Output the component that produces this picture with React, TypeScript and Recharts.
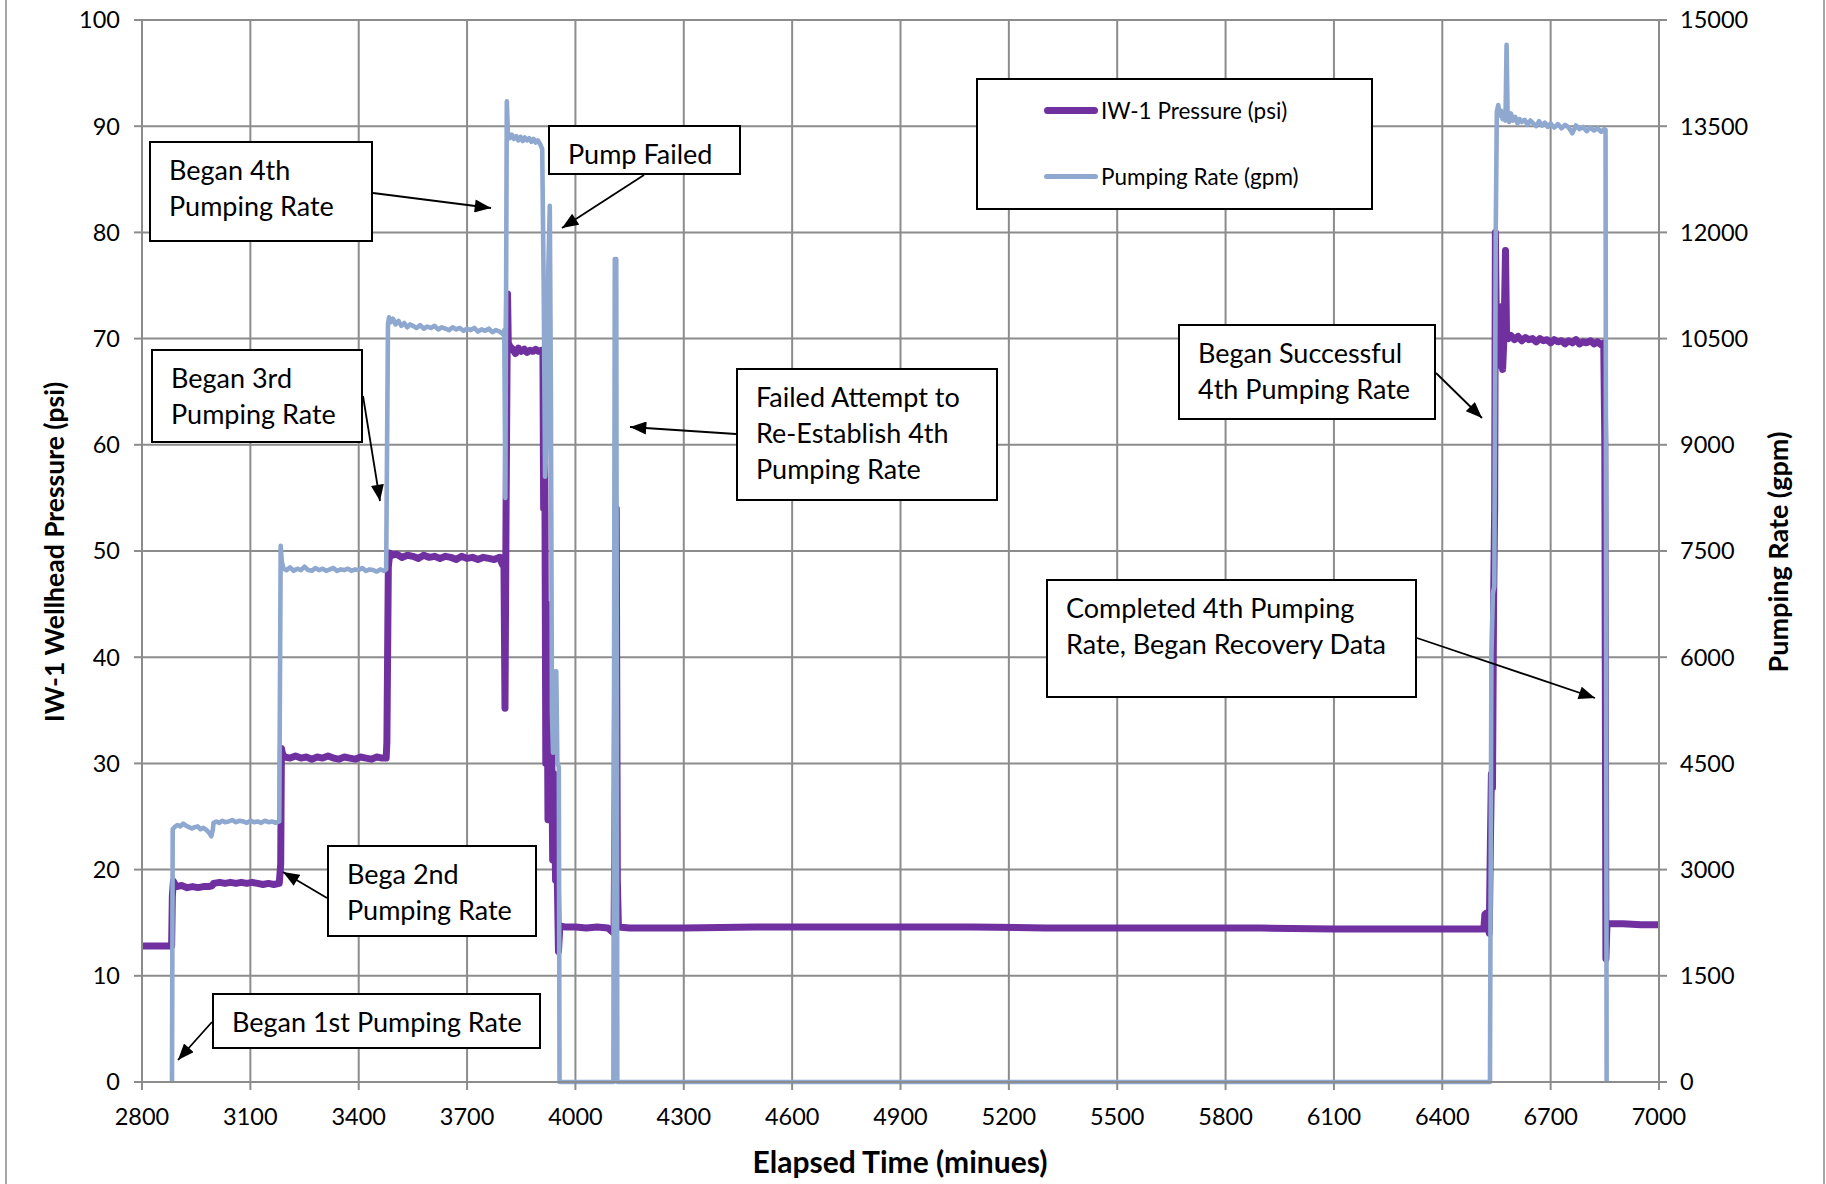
import { LineChart, Line, XAxis, YAxis, CartesianGrid } from 'recharts';

// elapsed time (min) / wellhead pressure (psi)
const pressurePoints: [number, number][] = [
  [2800, 12.8], [2840, 12.8], [2882, 12.8], [2884, 17.5], [2887, 18.9], [2890, 18.7], [2896, 18.4],
  [2910, 18.5], [2925, 18.3], [2940, 18.4], [2955, 18.3], [2970, 18.4], [2985, 18.4], [2995, 18.5],
  [2998, 18.7], [3015, 18.8], [3030, 18.7], [3045, 18.8], [3060, 18.7], [3075, 18.8], [3090, 18.7],
  [3105, 18.8], [3120, 18.7], [3135, 18.6], [3150, 18.7], [3165, 18.6], [3180, 18.7], [3184, 20.5],
  [3186, 31.4], [3189, 30.9], [3195, 30.6], [3210, 30.5], [3225, 30.7], [3240, 30.5], [3255, 30.6],
  [3270, 30.4], [3285, 30.6], [3300, 30.5], [3315, 30.7], [3330, 30.5], [3345, 30.4], [3360, 30.6],
  [3375, 30.5], [3390, 30.4], [3405, 30.6], [3420, 30.5], [3435, 30.4], [3450, 30.6], [3465, 30.5],
  [3476, 30.5], [3478, 32], [3482, 48.5], [3486, 49.8], [3492, 49.6], [3505, 49.7], [3520, 49.4],
  [3535, 49.6], [3550, 49.5], [3565, 49.3], [3580, 49.6], [3595, 49.4], [3610, 49.5], [3625, 49.3],
  [3640, 49.5], [3655, 49.4], [3670, 49.2], [3685, 49.5], [3700, 49.3], [3715, 49.4], [3730, 49.2],
  [3745, 49.4], [3760, 49.3], [3775, 49.2], [3790, 49.4], [3798, 48.7], [3802, 49.4], [3805, 35.2],
  [3808, 54], [3812, 74.2], [3814, 69.6], [3818, 69.3], [3826, 69.0], [3834, 68.6], [3842, 69.1],
  [3850, 68.8], [3858, 69.0], [3866, 68.7], [3874, 68.9], [3882, 68.8], [3890, 69.0], [3898, 68.8],
  [3906, 68.9], [3910, 68.8], [3912, 54], [3915, 61.5], [3918, 30], [3921, 45], [3924, 24.7],
  [3927, 38], [3930, 28], [3934, 33], [3937, 20.9], [3941, 29], [3945, 19], [3949, 21], [3953, 12.3],
  [3957, 14.7], [3970, 14.6], [4000, 14.6], [4030, 14.5], [4060, 14.6], [4090, 14.5], [4103, 14.1],
  [4107, 14.3], [4110, 28], [4113, 54], [4116, 19], [4119, 14.6], [4150, 14.5], [4300, 14.5],
  [4500, 14.6], [4700, 14.6], [4900, 14.6], [5100, 14.6], [5300, 14.5], [5500, 14.5], [5700, 14.5],
  [5900, 14.5], [6100, 14.4], [6300, 14.4], [6500, 14.4], [6515, 14.4], [6518, 15.8], [6522, 15.9],
  [6526, 14.6], [6530, 14.0], [6533, 22], [6536, 29], [6539, 27.7], [6542, 45], [6545, 54],
  [6547, 80], [6550, 70], [6553, 72.5], [6556, 67.5], [6559, 70.4], [6563, 73], [6567, 67.1],
  [6571, 70.3], [6575, 78.3], [6578, 70.2], [6583, 70.0], [6590, 70.3], [6600, 69.9], [6610, 70.2],
  [6620, 69.8], [6630, 70.1], [6640, 69.9], [6650, 70.0], [6660, 69.7], [6670, 70.0], [6680, 69.8],
  [6690, 69.9], [6700, 69.6], [6710, 69.9], [6720, 69.7], [6730, 69.8], [6740, 69.5], [6750, 69.8],
  [6760, 69.6], [6770, 69.9], [6780, 69.5], [6790, 69.7], [6800, 69.6], [6810, 69.8], [6820, 69.5],
  [6830, 69.7], [6840, 69.4], [6847, 69.6], [6850, 60], [6853, 11.6], [6856, 14.9], [6870, 14.9],
  [6900, 14.9], [6950, 14.8], [7000, 14.8],
];

// elapsed time (min) / pumping rate (gpm)
const ratePoints: [number, number][] = [
  [2883, 0], [2885, 3570], [2890, 3600], [2898, 3630], [2906, 3610], [2914, 3650], [2922, 3620],
  [2930, 3600], [2938, 3580], [2946, 3600], [2954, 3610], [2962, 3570], [2970, 3590], [2978, 3560],
  [2986, 3520], [2992, 3470], [2996, 3560], [2998, 3660], [3006, 3680], [3014, 3660], [3022, 3690],
  [3030, 3670], [3040, 3680], [3050, 3700], [3060, 3670], [3070, 3690], [3080, 3680], [3090, 3660],
  [3100, 3690], [3110, 3670], [3120, 3680], [3130, 3660], [3140, 3690], [3150, 3670], [3160, 3680],
  [3170, 3660], [3180, 3680], [3184, 7575], [3187, 7350], [3192, 7250], [3200, 7230], [3210, 7270],
  [3220, 7220], [3230, 7250], [3240, 7230], [3250, 7280], [3260, 7230], [3270, 7220], [3280, 7260],
  [3290, 7230], [3300, 7250], [3310, 7220], [3320, 7240], [3330, 7260], [3340, 7220], [3350, 7240],
  [3360, 7230], [3370, 7250], [3380, 7220], [3390, 7240], [3400, 7230], [3410, 7260], [3420, 7220],
  [3430, 7240], [3440, 7230], [3450, 7210], [3460, 7240], [3470, 7220], [3476, 7240], [3481, 10700],
  [3484, 10800], [3488, 10730], [3495, 10780], [3502, 10700], [3510, 10750], [3518, 10680],
  [3526, 10720], [3534, 10660], [3542, 10700], [3550, 10680], [3560, 10650], [3570, 10690],
  [3580, 10640], [3590, 10670], [3600, 10650], [3610, 10680], [3620, 10630], [3630, 10660],
  [3640, 10640], [3650, 10620], [3660, 10660], [3670, 10630], [3680, 10650], [3690, 10610],
  [3700, 10640], [3710, 10620], [3720, 10650], [3730, 10600], [3740, 10630], [3750, 10610],
  [3760, 10640], [3770, 10590], [3780, 10620], [3790, 10600], [3800, 10560], [3803, 10620],
  [3806, 8250], [3810, 13850], [3813, 13400], [3818, 13330], [3824, 13380], [3830, 13320],
  [3836, 13360], [3842, 13300], [3848, 13350], [3854, 13290], [3860, 13340], [3866, 13300],
  [3872, 13330], [3878, 13280], [3884, 13320], [3890, 13270], [3896, 13300], [3902, 13250],
  [3908, 13180], [3912, 11300], [3916, 8550], [3920, 9000], [3925, 11500], [3929, 12375],
  [3932, 9800], [3935, 5200], [3938, 4650], [3941, 5800], [3944, 5700], [3947, 5800], [3950, 4500],
  [3954, 4450], [3956, 0], [4105, 0], [4109, 11625], [4113, 11625], [4116, 0], [6532, 0],
  [6536, 6000], [6540, 6900], [6544, 7000], [6548, 12000], [6551, 13700], [6555, 13800],
  [6559, 13650], [6563, 13720], [6567, 13600], [6571, 13680], [6575, 13580], [6578, 14650],
  [6581, 13600], [6585, 13560], [6590, 13680], [6596, 13580], [6602, 13630], [6608, 13540],
  [6614, 13600], [6620, 13560], [6628, 13590], [6636, 13520], [6644, 13580], [6652, 13540],
  [6660, 13500], [6668, 13570], [6676, 13510], [6684, 13550], [6692, 13490], [6700, 13540],
  [6710, 13480], [6720, 13530], [6730, 13470], [6740, 13520], [6750, 13480], [6760, 13400],
  [6770, 13510], [6780, 13460], [6790, 13490], [6800, 13430], [6810, 13480], [6820, 13440],
  [6830, 13470], [6840, 13420], [6848, 13460], [6852, 13450], [6855, 0],
];

const xTicks = [2800, 3100, 3400, 3700, 4000, 4300, 4600, 4900, 5200, 5500, 5800, 6100, 6400, 6700, 7000];
const psiTicks = [0, 10, 20, 30, 40, 50, 60, 70, 80, 90, 100];
const gpmTicks = [0, 1500, 3000, 4500, 6000, 7500, 9000, 10500, 12000, 13500, 15000];

const pressureData = pressurePoints.map(([t, v]) => ({ t, v }));
const rateData = ratePoints.map(([t, v]) => ({ t, v }));

const PURPLE = '#7030A0';
const BLUE = '#8EA8D0';
const GRID = '#8C8C8C';
const FONT = 'Lato, "Open Sans", sans-serif';

// callout boxes and their arrows (page pixels)
const notes = [
  { x: 149, y: 141, w: 224, h: 101, lines: ['Began 4th', 'Pumping Rate'], from: [373, 193], to: [491, 208] },
  { x: 548, y: 125, w: 193, h: 50, lines: ['Pump Failed'], from: [644, 175], to: [562, 228] },
  { x: 151, y: 349, w: 212, h: 94, lines: ['Began 3rd', 'Pumping Rate'], from: [363, 396], to: [380, 501] },
  { x: 736, y: 368, w: 262, h: 133, lines: ['Failed Attempt to', 'Re-Establish 4th', 'Pumping Rate'], from: [736, 434], to: [630, 427] },
  { x: 1178, y: 324, w: 258, h: 96, lines: ['Began Successful', '4th Pumping Rate'], from: [1436, 373], to: [1482, 418] },
  { x: 1046, y: 579, w: 371, h: 119, lines: ['Completed 4th Pumping', 'Rate, Began Recovery Data'], from: [1417, 638], to: [1595, 698] },
  { x: 327, y: 845, w: 210, h: 92, lines: ['Bega 2nd', 'Pumping Rate'], from: [327, 898], to: [283, 872] },
  { x: 212, y: 993, w: 329, h: 56, lines: ['Began 1st Pumping Rate'], from: [212, 1022], to: [178, 1060] },
];

const tickStyle = { fill: '#000', fontSize: 23.5, fontFamily: FONT };
const lineStyle = { stroke: GRID, strokeWidth: 2 };

export default function App() {
  return (
    <div style={{ position: 'absolute', left: 0, top: 0, width: 1826, height: 1184, background: '#fff', fontFamily: FONT }}>
      <div style={{ position: 'absolute', left: 5, top: 0, width: 1816, height: 1184, borderLeft: '2px solid #A6A6A6', borderRight: '2px solid #A6A6A6' }} />
      <LineChart width={1826} height={1184} margin={{ top: 20, right: 67, bottom: 42, left: 62 }}>
        <CartesianGrid yAxisId="left" stroke={GRID} strokeWidth={2} />
        <XAxis
          type="number"
          dataKey="t"
          domain={[2800, 7000]}
          ticks={xTicks}
          allowDataOverflow
          height={60}
          tick={tickStyle}
          tickSize={8}
          tickMargin={18}
          axisLine={lineStyle}
          tickLine={lineStyle}
        />
        <YAxis
          yAxisId="left"
          domain={[0, 100]}
          ticks={psiTicks}
          width={80}
          tick={tickStyle}
          tickSize={8}
          tickMargin={14}
          axisLine={lineStyle}
          tickLine={lineStyle}
        />
        <YAxis
          yAxisId="right"
          orientation="right"
          domain={[0, 15000]}
          ticks={gpmTicks}
          width={100}
          tick={tickStyle}
          tickSize={8}
          tickMargin={13}
          axisLine={lineStyle}
          tickLine={lineStyle}
        />
        <Line
          yAxisId="left"
          data={pressureData}
          dataKey="v"
          name="IW-1 Pressure (psi)"
          type="linear"
          stroke={PURPLE}
          strokeWidth={7}
          strokeLinejoin="round"
          dot={false}
          isAnimationActive={false}
        />
        <Line
          yAxisId="right"
          data={rateData}
          dataKey="v"
          name="Pumping Rate (gpm)"
          type="linear"
          stroke={BLUE}
          strokeWidth={4.6}
          strokeLinejoin="round"
          dot={false}
          isAnimationActive={false}
        />
      </LineChart>

      {/* legend */}
      <div style={{ position: 'absolute', left: 976, top: 78, width: 397, height: 132, boxSizing: 'border-box', border: '2px solid #000', background: '#fff', fontSize: 22.5 }}>
        <div style={{ position: 'absolute', left: 66, top: 17, display: 'flex', alignItems: 'center' }}>
          <div style={{ width: 54, height: 7, borderRadius: 3.5, background: PURPLE }} />
          <span style={{ marginLeft: 3 }}>IW-1 Pressure (psi)</span>
        </div>
        <div style={{ position: 'absolute', left: 66, top: 83, display: 'flex', alignItems: 'center' }}>
          <div style={{ width: 54, height: 5, borderRadius: 2.5, background: BLUE }} />
          <span style={{ marginLeft: 3 }}>Pumping Rate (gpm)</span>
        </div>
      </div>

      {/* callouts */}
      {notes.map((n, i) => (
        <div
          key={i}
          style={{
            position: 'absolute', left: n.x, top: n.y, width: n.w, height: n.h, boxSizing: 'border-box',
            border: '2px solid #000', background: '#fff', paddingLeft: 18, paddingTop: 9,
            fontSize: 27, lineHeight: '36px', whiteSpace: 'nowrap', color: '#000',
          }}
        >
          {n.lines.map((l, j) => <div key={j}>{l}</div>)}
        </div>
      ))}
      <svg width={1826} height={1184} style={{ position: 'absolute', left: 0, top: 0, pointerEvents: 'none' }}>
        <defs>
          <marker id="head" viewBox="0 0 10 8" refX="10" refY="4" markerUnits="userSpaceOnUse" markerWidth="17" markerHeight="13" orient="auto">
            <path d="M0,0 L10,4 L0,8 z" fill="#000" />
          </marker>
        </defs>
        {notes.map((n, i) => (
          <line key={i} x1={n.from[0]} y1={n.from[1]} x2={n.to[0]} y2={n.to[1]} stroke="#000" strokeWidth={1.8} markerEnd="url(#head)" />
        ))}
      </svg>

      {/* axis titles */}
      <div style={{ position: 'absolute', left: 900, top: 1161, transform: 'translate(-50%, -50%)', fontSize: 30, fontWeight: 700, whiteSpace: 'nowrap' }}>
        Elapsed Time (minues)
      </div>
      <div style={{ position: 'absolute', left: 54, top: 552, transform: 'translate(-50%, -50%) rotate(-90deg)', fontSize: 26.5, fontWeight: 700, whiteSpace: 'nowrap' }}>
        IW-1 Wellhead Pressure (psi)
      </div>
      <div style={{ position: 'absolute', left: 1777, top: 552, transform: 'translate(-50%, -50%) rotate(-90deg)', fontSize: 27, fontWeight: 700, whiteSpace: 'nowrap' }}>
        Pumping Rate (gpm)
      </div>
    </div>
  );
}
